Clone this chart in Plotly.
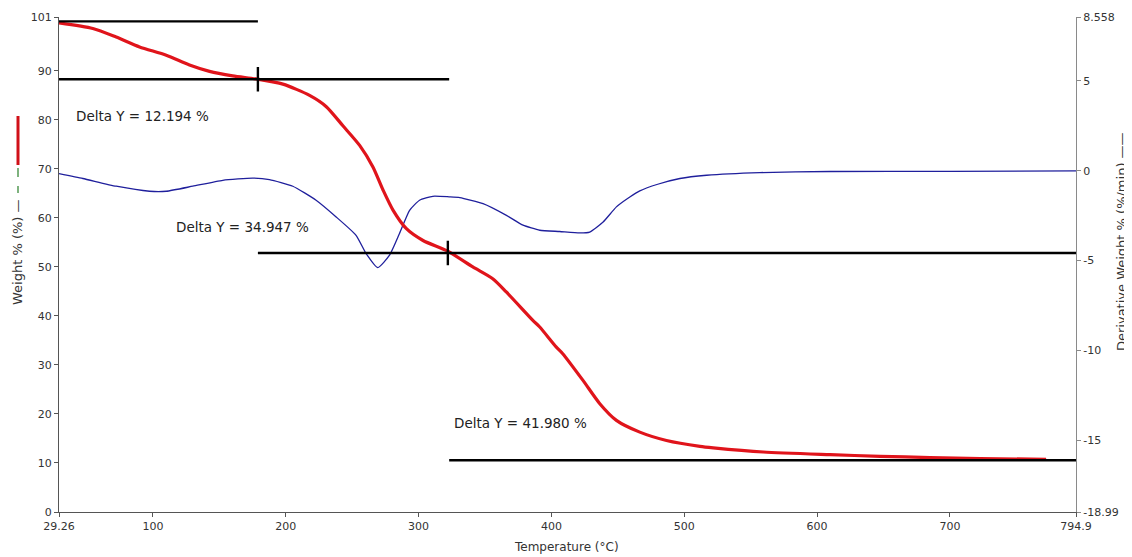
import plotly.graph_objects as go

# ---- data ----
temp_weight = [29.26, 54.7, 72.3, 89.9, 110, 127.5, 142.6, 160, 179, 197.8, 217.9, 230.5,
               243, 255.6, 265.6, 273.2, 280.7, 290.8, 303.3, 322, 340.8, 355.8, 366, 386,
               391, 403.5, 408.5, 423.6, 436.4, 448.9, 466.5, 486.6, 511.8, 521.8, 559.5,
               609.7, 647.4, 685, 722.6, 772.4]
weight_pct = [99.8, 98.65, 96.9, 94.9, 93.2, 91.2, 89.9, 89.0, 88.3, 87.3, 85.0, 82.7,
              78.8, 74.8, 70.4, 65.7, 61.6, 57.8, 55.4, 53.2, 50.0, 47.6, 44.9, 39.1,
              37.8, 33.7, 32.3, 26.9, 22.1, 18.7, 16.3, 14.6, 13.4, 13.1, 12.24,
              11.7, 11.37, 11.1, 10.9, 10.76]

temp_deriv = [29.26, 47.2, 72.3, 97.4, 110, 130, 152.6, 175, 187.7, 205.3, 222.8, 237.9,
              252.9, 260.5, 269.3, 278.1, 285.6, 293.2, 300.7, 310.7, 323, 331, 348.5,
              366.1, 378.6, 391.2, 406.2, 421.3, 428.8, 438.9, 448.9, 459, 466.5, 480,
              496.7, 516.8, 556.9, 609.7, 700, 794.9]
deriv_wt = [-0.16, -0.43, -0.86, -1.14, -1.14, -0.86, -0.53, -0.41, -0.49, -0.86, -1.64, -2.57,
            -3.59, -4.61, -5.39, -4.70, -3.49, -2.20, -1.64, -1.42, -1.45, -1.49, -1.83,
            -2.48, -3.03, -3.31, -3.38, -3.46, -3.41, -2.85, -2.01, -1.46, -1.12, -0.75,
            -0.43, -0.25, -0.10, -0.04, -0.03, -0.01]

x_ticks = [29.26, 100, 200, 300, 400, 500, 600, 700, 794.9]
x_tick_labels = ["29.26", "100", "200", "300", "400", "500", "600", "700", "794.9"]
y_ticks = [0, 10, 20, 30, 40, 50, 60, 70, 80, 90, 101]
y_tick_labels = ["0", "10", "20", "30", "40", "50", "60", "70", "80", "90", "101"]
y2_ticks = [-18.99, -15, -10, -5, 0, 5, 8.558]
y2_tick_labels = ["-18.99", "-15", "-10", "-5", "0", "5", "8.558"]

# step analysis (levels and extents)
level_values = [100.1, 88.3, 52.85, 10.55]
level_start_T = [29.26, 29.26, 179, 323]
level_end_T = [179, 323, 794.9, 794.9]
onset_T = [179, 322]
onset_W = [88.3, 52.85]
delta_labels = ["Delta Y = 12.194 %", "Delta Y = 34.947 %", "Delta Y = 41.980 %"]
delta_label_T = [40.3, 115.5, 325.4]
delta_label_W = [80.8, 58.1, 18.1]

FONT = "DejaVu Sans"
TXT = "#333333"

# page body has an 8px margin; plot area on page: x 59..1076, y 17..512
PX0, PX1, PY0, PY1 = 59, 1076, 17, 512


def px(xp):
    return (xp - PX0) / (PX1 - PX0)


def py(yp):
    return (PY1 - yp) / (PY1 - PY0)


fig = go.Figure()

# derivative curve on the right-hand axis (drawn first / underneath)
fig.add_trace(go.Scatter(x=temp_deriv, y=deriv_wt, mode="lines", yaxis="y",
                         line=dict(color="#1f1f9c", width=1.3, shape="spline", smoothing=0.5),
                         showlegend=False))
# weight curve on left axis
fig.add_trace(go.Scatter(x=temp_weight, y=weight_pct, mode="lines", yaxis="y2",
                         line=dict(color="#e0141b", width=3.2, shape="spline", smoothing=0.7),
                         showlegend=False))
# step lines
for xs, xe, lv in zip(level_start_T, level_end_T, level_values):
    fig.add_trace(go.Scatter(x=[xs, xe], y=[lv, lv], mode="lines", yaxis="y2",
                             line=dict(color="black", width=2.4), showlegend=False))
for t, w in zip(onset_T, onset_W):
    fig.add_trace(go.Scatter(x=[t, t], y=[w - 2.5, w + 2.5], mode="lines", yaxis="y2",
                             line=dict(color="black", width=2.4), showlegend=False))

annotations = []
for lab, t, w in zip(delta_labels, delta_label_T, delta_label_W):
    annotations.append(dict(x=t, y=w, xref="x", yref="y2", text=lab, showarrow=False,
                            xanchor="left", yanchor="middle",
                            font=dict(family=FONT, size=13.5, color="#222222")))

# axis titles
annotations.append(dict(x=px(18), y=py(252), xref="paper", yref="paper",
                        text="Weight % (%) —", textangle=-90, showarrow=False,
                        xanchor="center", yanchor="middle",
                        font=dict(family=FONT, size=13, color=TXT)))
annotations.append(dict(x=px(1121), y=py(242), xref="paper", yref="paper",
                        text="Derivative Weight % (%/min) ——", textangle=-90, showarrow=False,
                        xanchor="center", yanchor="middle",
                        font=dict(family=FONT, size=13, color=TXT)))
annotations.append(dict(x=px(566), y=py(547), xref="paper", yref="paper",
                        text="Temperature (°C)", showarrow=False,
                        xanchor="center", yanchor="middle",
                        font=dict(family=FONT, size=12, color=TXT)))

shapes = [
    dict(type="line", xref="paper", yref="paper",
         x0=px(18), x1=px(18), y0=py(116), y1=py(165),
         line=dict(color="#d01018", width=3)),
    dict(type="line", xref="paper", yref="paper",
         x0=px(18), x1=px(18), y0=py(168), y1=py(193),
         line=dict(color="#3a8a3a", width=1.3, dash="dash")),
]

axis_common = dict(showgrid=False, zeroline=False, showline=True, linewidth=1,
                   ticks="outside", ticklen=4, tickwidth=1, automargin=False,
                   tickfont=dict(family=FONT, size=11, color=TXT))

W, H = 1124, 549
fig.update_layout(
    width=W, height=H,
    margin=dict(l=PX0 - 8, r=W - (PX1 - 8), t=PY0 - 8, b=H - (PY1 - 8)),
    paper_bgcolor="white", plot_bgcolor="white",
    xaxis=dict(range=[29.26, 794.9], tickvals=x_ticks, ticktext=x_tick_labels,
               linecolor="#555555", tickcolor="#555555", **axis_common),
    yaxis=dict(range=[-18.99, 8.558], tickvals=y2_ticks, ticktext=y2_tick_labels,
               side="right", linecolor="#8a8a8a", tickcolor="#8a8a8a", **axis_common),
    yaxis2=dict(range=[0, 101], tickvals=y_ticks, ticktext=y_tick_labels,
                side="left", overlaying="y", linecolor="#555555", tickcolor="#555555",
                **axis_common),
    annotations=annotations,
    shapes=shapes,
    showlegend=False,
)

fig.write_html("out.html")
